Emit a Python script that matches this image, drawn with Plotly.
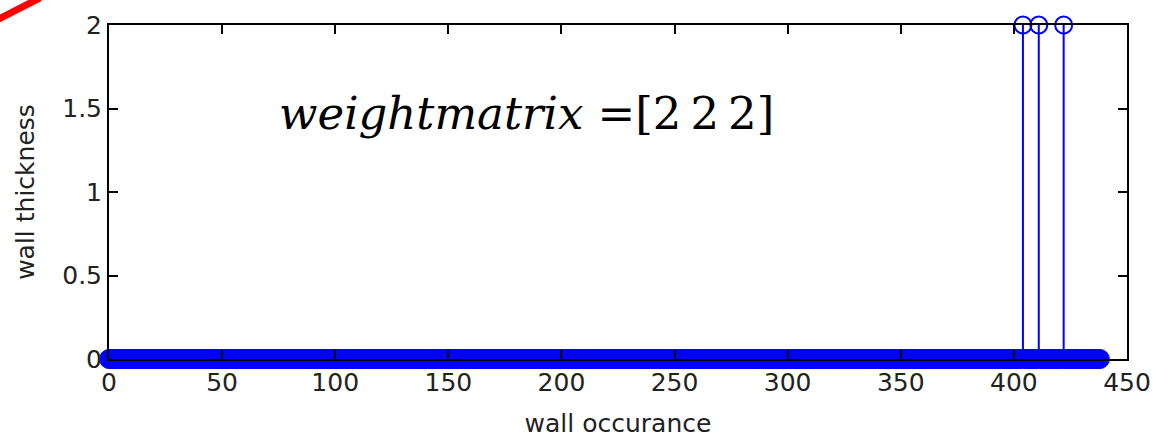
import plotly.graph_objects as go

# Data
x_first = 0
x_last = 438
spike_x = [404, 411, 422]
spike_y = [2, 2, 2]

x_vals = list(range(x_first, x_last + 1))
y_vals = [0.0] * len(x_vals)
for sx, sy in zip(spike_x, spike_y):
    y_vals[x_vals.index(sx)] = sy

x_ticks = [0, 50, 100, 150, 200, 250, 300, 350, 400, 450]
y_ticks = [0, 0.5, 1, 1.5, 2]

# stems
stem_x, stem_y = [], []
for xv, yv in zip(x_vals, y_vals):
    if yv != 0:
        stem_x += [xv, xv, None]
        stem_y += [0, yv, None]

zero_x = [xv for xv, yv in zip(x_vals, y_vals) if yv == 0]
zero_y = [yv for yv in y_vals if yv == 0]
top_x = [xv for xv, yv in zip(x_vals, y_vals) if yv != 0]
top_y = [yv for yv in y_vals if yv != 0]

fig = go.Figure()
fig.add_trace(go.Scatter(x=stem_x, y=stem_y, mode="lines",
                         line=dict(color="#0000ff", width=2), hoverinfo="skip",
                         showlegend=False, cliponaxis=False))
fig.add_trace(go.Scatter(x=zero_x, y=zero_y, mode="markers",
                         marker=dict(symbol="circle", size=19, color="#0000ff",
                                     line=dict(width=1, color="#0000ff")),
                         showlegend=False, cliponaxis=False))
fig.add_trace(go.Scatter(x=top_x, y=top_y, mode="markers",
                         marker=dict(symbol="circle-open", size=17, color="#0000ff",
                                     line=dict(width=2, color="#0000ff")),
                         showlegend=False, cliponaxis=False))

fig.add_annotation(x=0.41, y=0.82, xref="paper", yref="paper",
                   text="<i>weightmatrix</i> =[2\u20092\u20092]", showarrow=False,
                   font=dict(family="DejaVu Serif", size=45, color="#000000"))

fig.add_shape(type="line", xref="paper", yref="paper",
              x0=-0.112, y0=1.012, x1=-0.0678, y1=1.081,
              line=dict(color="#ff0000", width=7))

axis_common = dict(showline=True, linecolor="#000000", linewidth=2, mirror="ticks",
                   ticks="inside", ticklen=9, tickwidth=1.5, tickcolor="#000000",
                   showgrid=False, zeroline=False, automargin=False,
                   tickfont=dict(family="DejaVu Sans", size=25, color="#222222"))

fig.update_xaxes(range=[0, 450], tickvals=x_ticks, layer="above traces",
                 title=dict(text="wall occurance", standoff=20,
                            font=dict(family="DejaVu Sans", size=25, color="#222222")),
                 **axis_common)
fig.update_yaxes(range=[0, 2], tickvals=y_ticks, ticktext=["0", "0.5", "1", "1.5", "2"],
                 title=dict(text="wall thickness", standoff=20,
                            font=dict(family="DejaVu Sans", size=25, color="#222222")),
                 **axis_common)

fig.update_layout(width=1153, height=438, plot_bgcolor="#ffffff", paper_bgcolor="#ffffff",
                  margin=dict(l=109, r=26, t=25, b=79))

fig.write_html("out.html", config={"displayModeBar": False},
               post_script="document.body.style.margin='0';document.body.style.overflow='hidden';")
